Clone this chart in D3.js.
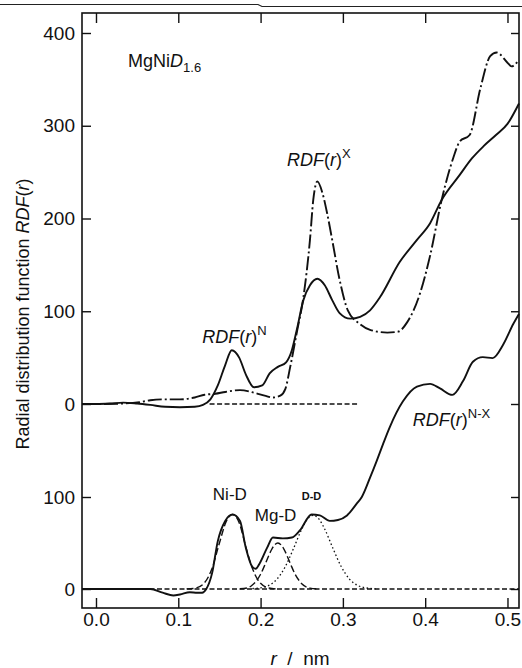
<!DOCTYPE html>
<html><head><meta charset="utf-8">
<script src="https://cdn.jsdelivr.net/npm/d3@7"></script>
<style>
html,body{margin:0;padding:0;background:#fff;}
svg{display:block;font-family:"Liberation Sans",Arial,Helvetica,sans-serif;}
</style></head><body>
<svg id="chart" width="522" height="668"></svg>
<script>
// Radial distribution functions of MgNiD1.6, r in nm.
// Upper panel: neutron RDF(r)^N and X-ray RDF(r)^X.
const rdfN = [[-0.017,0],[0,0],[0.017,0.5],[0.033,1.5],[0.05,0.5],[0.066,-1],[0.084,-3],[0.102,-3.5],[0.12,-3],[0.13,-1],[0.139,5],[0.148,20],[0.157,42],[0.165,58],[0.174,50],[0.182,32],[0.192,18],[0.202,20],[0.211,33],[0.221,40],[0.231,45],[0.238,58],[0.244,80],[0.252,112],[0.26,128],[0.269,135],[0.278,128],[0.287,112],[0.296,98],[0.309,92],[0.321,94],[0.333,101],[0.345,115],[0.369,153],[0.39,177],[0.406,195],[0.42,220],[0.442,247],[0.457,265],[0.471,278],[0.486,290],[0.5,302],[0.514,324]];
const rdfX = [[-0.017,0],[0,0],[0.033,0.5],[0.053,2],[0.066,4],[0.084,5],[0.102,5],[0.12,7],[0.132,10],[0.145,11],[0.157,13],[0.175,15],[0.193,12],[0.205,9],[0.215,7],[0.224,9],[0.23,16],[0.236,40],[0.244,77],[0.252,115],[0.26,177],[0.264,220],[0.269,240],[0.275,228],[0.281,205],[0.287,177],[0.296,134],[0.306,101],[0.321,86],[0.333,80],[0.354,77],[0.367,78],[0.378,88],[0.394,120],[0.406,160],[0.42,220],[0.434,265],[0.442,283],[0.454,290],[0.467,340],[0.479,375],[0.487,379],[0.5,368],[0.505,364],[0.514,371]];
const upperBaseline = [[0.138,0],[0.318,0]];

// Lower panel: difference RDF(r)^N-X and its fitted pair components.
const rdfNX = [[-0.017,0],[0.066,0],[0.081,-4],[0.094,-7],[0.102,-6],[0.114,-3.5],[0.123,-4],[0.129,-4],[0.134,0],[0.141,17],[0.148,52],[0.157,74],[0.166,81],[0.175,74],[0.182,45],[0.19,24],[0.194,22],[0.199,28],[0.208,45],[0.215,56],[0.227,55],[0.238,56],[0.248,64],[0.262,81],[0.272,80],[0.284,74],[0.294,75],[0.305,80],[0.317,93],[0.323,100],[0.333,121],[0.341,139],[0.349,158],[0.357,176],[0.373,204],[0.39,220],[0.406,223],[0.418,218],[0.433,211],[0.446,226],[0.458,247],[0.47,252],[0.482,251],[0.495,266],[0.507,288],[0.514,299]];
const peakNiD = [[0.11,0.1],[0.12,0.8],[0.13,5],[0.14,20],[0.15,50],[0.158,73],[0.166,81],[0.174,72],[0.182,46],[0.19,22.5],[0.196,11],[0.2,6.2],[0.21,1.1],[0.22,0.1]];
const peakMgD = [[0.175,0.2],[0.185,1.5],[0.19,4.3],[0.195,8.9],[0.2,16],[0.207,30],[0.214,44],[0.221,50],[0.228,44],[0.235,30],[0.242,16],[0.25,5.8],[0.26,1],[0.27,0.1]];
const peakDD = [[0.19,0.5],[0.2,1.2],[0.21,3.9],[0.22,10.8],[0.23,24.3],[0.24,44],[0.25,65],[0.257,76],[0.264,80],[0.271,76],[0.278,65],[0.288,44],[0.298,24.3],[0.308,10.8],[0.318,3.9],[0.328,1.2],[0.34,0.2]];
const lowerBaseline = [[-0.017,0],[0.514,0]];

const xTicks = [0, 0.1, 0.2, 0.3, 0.4, 0.5];
const yTicksUpper = [0, 100, 200, 300, 400];
const yTicksLower = [0, 100];

const svg = d3.select("#chart");
const frame = {left: 82, right: 519, top: 13, bottom: 608};

const x = d3.scaleLinear().domain([-0.017, 0.514]).range([frame.left, frame.right]);
const yUp = d3.scaleLinear().domain([0, 400]).range([404, 33]);
const yLow = d3.scaleLinear().domain([0, 100]).range([589, 497]);

// thin rule along the top edge of the page
svg.append("path").attr("d", "M0,4.5L258,4.5L262,6.5L522,6.5")
  .attr("fill", "none").attr("stroke", "#222").attr("stroke-width", 1.2);

function draw(data, y, dash, width) {
  const line = d3.line().x(d => x(d[0])).y(d => y(d[1])).curve(d3.curveMonotoneX);
  svg.append("path").datum(data).attr("d", line)
    .attr("fill", "none").attr("stroke", "#111")
    .attr("stroke-width", width)
    .attr("stroke-dasharray", dash)
    .attr("stroke-linejoin", "round");
}

draw(upperBaseline, yUp, "5,2.5", 1.3);
draw(lowerBaseline, yLow, "5,2.5", 1.3);
draw(peakDD, yLow, "1.5,2.5", 1.3);
draw(peakMgD, yLow, "7,3", 1.4);
draw(peakNiD, yLow, "7,3", 1.4);
draw(rdfNX, yLow, null, 1.9);
draw(rdfX, yUp, "14,3,2,3", 1.9);
draw(rdfN, yUp, null, 1.9);

// axes: ticks point into the frame
const font = 18;
const tickFont = 19;
function styleAxis(g) {
  g.select(".domain").remove();
  g.selectAll(".tick line").attr("stroke", "#111").attr("stroke-width", 1.4);
  g.selectAll(".tick text").attr("fill", "#111").attr("font-size", tickFont).attr("font-family", null);
}
svg.append("g").attr("transform", `translate(${frame.left},0)`)
  .call(d3.axisLeft(yUp).tickValues(yTicksUpper).tickSizeInner(-9).tickSizeOuter(0).tickPadding(7))
  .call(styleAxis);
svg.append("g").attr("transform", `translate(${frame.left},0)`)
  .call(d3.axisLeft(yLow).tickValues(yTicksLower).tickSizeInner(-9).tickSizeOuter(0).tickPadding(7))
  .call(styleAxis);
svg.append("g").attr("transform", `translate(${frame.right},0)`)
  .call(d3.axisRight(yUp).tickValues(yTicksUpper).tickSizeInner(-8).tickSizeOuter(0).tickFormat(""))
  .call(styleAxis);
svg.append("g").attr("transform", `translate(${frame.right},0)`)
  .call(d3.axisRight(yLow).tickValues(yTicksLower).tickSizeInner(-8).tickSizeOuter(0).tickFormat(""))
  .call(styleAxis);
svg.append("g").attr("transform", `translate(0,${frame.bottom})`)
  .call(d3.axisBottom(x).tickValues(xTicks).tickFormat(d3.format(".1f")).tickSizeInner(-10).tickSizeOuter(0).tickPadding(5))
  .call(styleAxis);
svg.append("g").attr("transform", `translate(0,${frame.top})`)
  .call(d3.axisTop(x).tickValues(xTicks).tickFormat("").tickSizeInner(-10).tickSizeOuter(0))
  .call(styleAxis);

svg.append("rect")
  .attr("x", frame.left).attr("y", frame.top)
  .attr("width", frame.right - frame.left).attr("height", frame.bottom - frame.top)
  .attr("fill", "none").attr("stroke", "#111").attr("stroke-width", 1.6);

// axis titles
const yTitle = svg.append("text")
  .attr("transform", `translate(29,${(155 + 473) / 2}) rotate(-90)`)
  .attr("text-anchor", "middle").attr("font-size", font).attr("fill", "#111");
yTitle.append("tspan").text("Radial distribution function ");
yTitle.append("tspan").attr("font-style", "italic").text("RDF");
yTitle.append("tspan").text("(");
yTitle.append("tspan").attr("font-style", "italic").text("r");
yTitle.append("tspan").text(")");

const xTitle = svg.append("text").attr("x", 300).attr("y", 665)
  .attr("text-anchor", "middle").attr("font-size", 19).attr("fill", "#111")
  .attr("xml:space", "preserve");
xTitle.append("tspan").attr("font-style", "italic").text("r");
xTitle.append("tspan").text("  /  nm");

// annotations
const sample = svg.append("text").attr("x", x(0.039)).attr("y", yUp(363))
  .attr("font-size", font).attr("fill", "#111");
sample.append("tspan").text("MgNi");
sample.append("tspan").attr("font-style", "italic").text("D");
sample.append("tspan").attr("font-size", 13).attr("dy", 5).text("1.6");

function rdfLabel(r, y, v, sup) {
  const t = svg.append("text").attr("x", x(r)).attr("y", y(v))
    .attr("font-size", font).attr("fill", "#111");
  t.append("tspan").attr("font-style", "italic").text("RDF");
  t.append("tspan").text("(");
  t.append("tspan").attr("font-style", "italic").text("r");
  t.append("tspan").text(")");
  t.append("tspan").attr("font-size", 13).attr("dy", -8).text(sup);
}
rdfLabel(0.232, yUp, 257, "X");
rdfLabel(0.129, yUp, 66, "N");
rdfLabel(0.385, yLow, 177, "N-X");

svg.append("text").attr("x", x(0.142)).attr("y", yLow(97))
  .attr("font-size", 17).attr("fill", "#111").text("Ni-D");
svg.append("text").attr("x", x(0.193)).attr("y", yLow(74))
  .attr("font-size", 17).attr("fill", "#111").text("Mg-D");
svg.append("text").attr("x", x(0.25)).attr("y", yLow(97))
  .attr("font-size", 11).attr("font-weight", "bold").attr("fill", "#111").text("D-D");
</script>
</body></html>
